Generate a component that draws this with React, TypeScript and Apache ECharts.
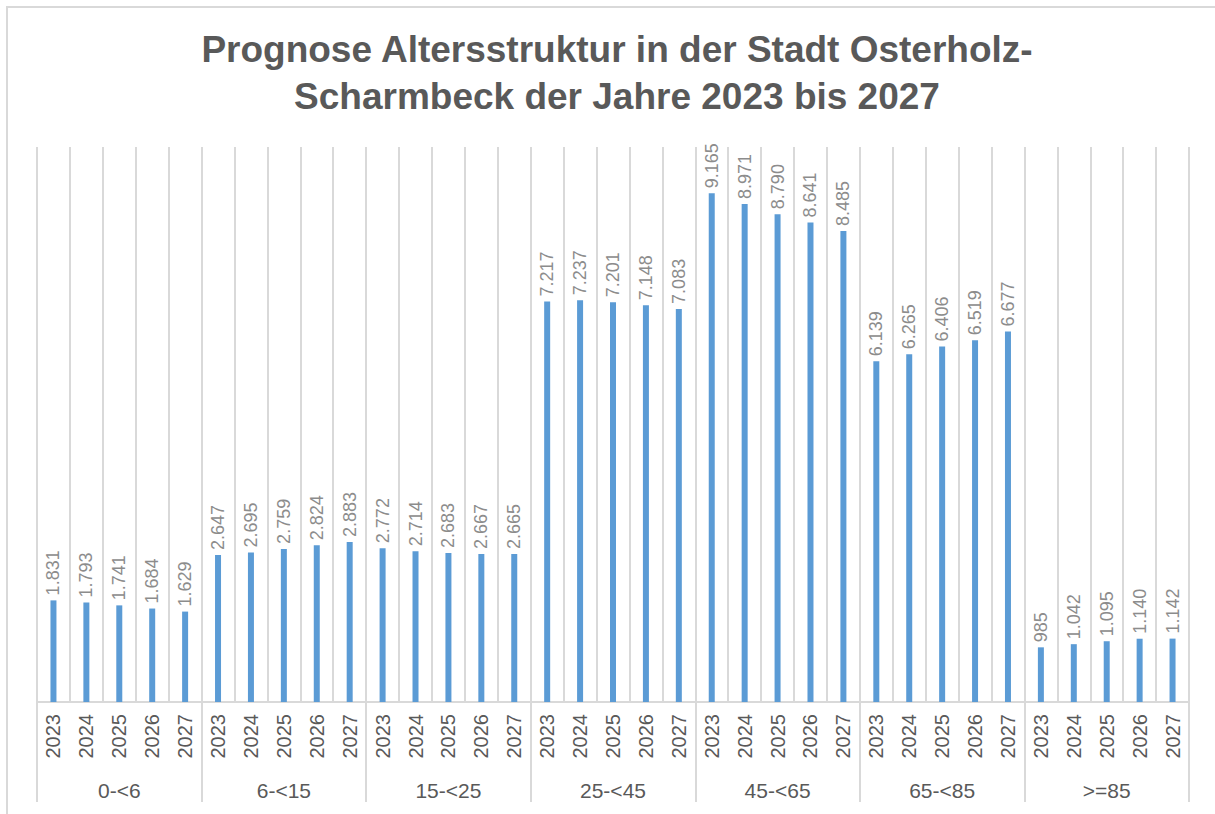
import React, { useEffect, useRef } from "react";
import * as echarts from "echarts";

const groups = ["0-<6", "6-<15", "15-<25", "25-<45", "45-<65", "65-<85", ">=85"];
const years = ["2023", "2024", "2025", "2026", "2027"];
const v0_6 = [1831, 1793, 1741, 1684, 1629];
const v6_15 = [2647, 2695, 2759, 2824, 2883];
const v15_25 = [2772, 2714, 2683, 2667, 2665];
const v25_45 = [7217, 7237, 7201, 7148, 7083];
const v45_65 = [9165, 8971, 8790, 8641, 8485];
const v65_85 = [6139, 6265, 6406, 6519, 6677];
const v85 = [985, 1042, 1095, 1140, 1142];
const yMax = 10000;

const allValues = [v0_6, v6_15, v15_25, v25_45, v45_65, v65_85, v85].flat();
const yearCats = groups.flatMap((g) => years.map((y) => y));

function fmt(n: number): string {
  const s = String(Math.round(n));
  return s.replace(/\B(?=(\d{3})+(?!\d))/g, ".");
}

const FONT = "'Liberation Sans', Arial, sans-serif";

export default function App() {
  const ref = useRef<HTMLDivElement>(null);
  useEffect(() => {
    if (!ref.current) return;
    const chart = echarts.init(ref.current, null, { renderer: "svg" });
    chart.setOption({
      animation: false,
      backgroundColor: "#ffffff",
      textStyle: { fontFamily: FONT },
      title: {
        text: "Prognose Altersstruktur in der Stadt Osterholz-\nScharmbeck der Jahre 2023 bis 2027",
        left: 612,
        textAlign: "center",
        top: 21,
        textStyle: {
          fontFamily: FONT,
          fontSize: 37,
          fontWeight: "bold",
          color: "#595959",
          lineHeight: 47,
        },
      },
      graphic: [
        {
          type: "rect",
          shape: { x: 7, y: 7, width: 1400, height: 1000 },
          style: { fill: "none", stroke: "#d9d9d9", lineWidth: 2 },
          silent: true,
        },
      ],
      grid: { left: 37, right: 26, top: 147, bottom: 112, containLabel: false },
      xAxis: [
        {
          type: "category",
          data: yearCats,
          position: "bottom",
          boundaryGap: true,
          axisLine: { show: true, lineStyle: { color: "#d9d9d9", width: 2 } },
          axisTick: { show: false },
          splitLine: { show: true, interval: 0, lineStyle: { color: "#d9d9d9", width: 2 } },
          axisLabel: {
            interval: 0,
            rotate: 90,
            margin: 12,
            fontSize: 20,
            color: "#595959",
            fontFamily: FONT,
          },
        },
        {
          type: "category",
          data: groups,
          position: "bottom",
          boundaryGap: true,
          axisLine: { show: false },
          axisTick: {
            show: true,
            interval: 0,
            length: 100,
            lineStyle: { color: "#d9d9d9", width: 2 },
          },
          splitLine: { show: false },
          axisLabel: {
            interval: 0,
            margin: 78,
            fontSize: 21,
            color: "#595959",
            fontFamily: FONT,
          },
        },
      ],
      yAxis: {
        type: "value",
        min: 0,
        max: yMax,
        show: false,
        splitLine: { show: false },
      },
      series: [
        {
          type: "bar",
          xAxisIndex: 0,
          data: allValues,
          barWidth: 6,
          itemStyle: { color: "#5B9BD5" },
          label: {
            show: true,
            position: "top",
            rotate: 90,
            align: "left",
            verticalAlign: "middle",
            distance: 5,
            fontSize: 18,
            color: "#8c8c8c",
            fontFamily: FONT,
            formatter: (p: any) => fmt(p.value),
          },
        },
      ],
    });
    return () => chart.dispose();
  }, []);
  return (
    <div
      ref={ref}
      style={{ position: "absolute", left: 0, top: 0, width: 1215, height: 814 }}
    />
  );
}
